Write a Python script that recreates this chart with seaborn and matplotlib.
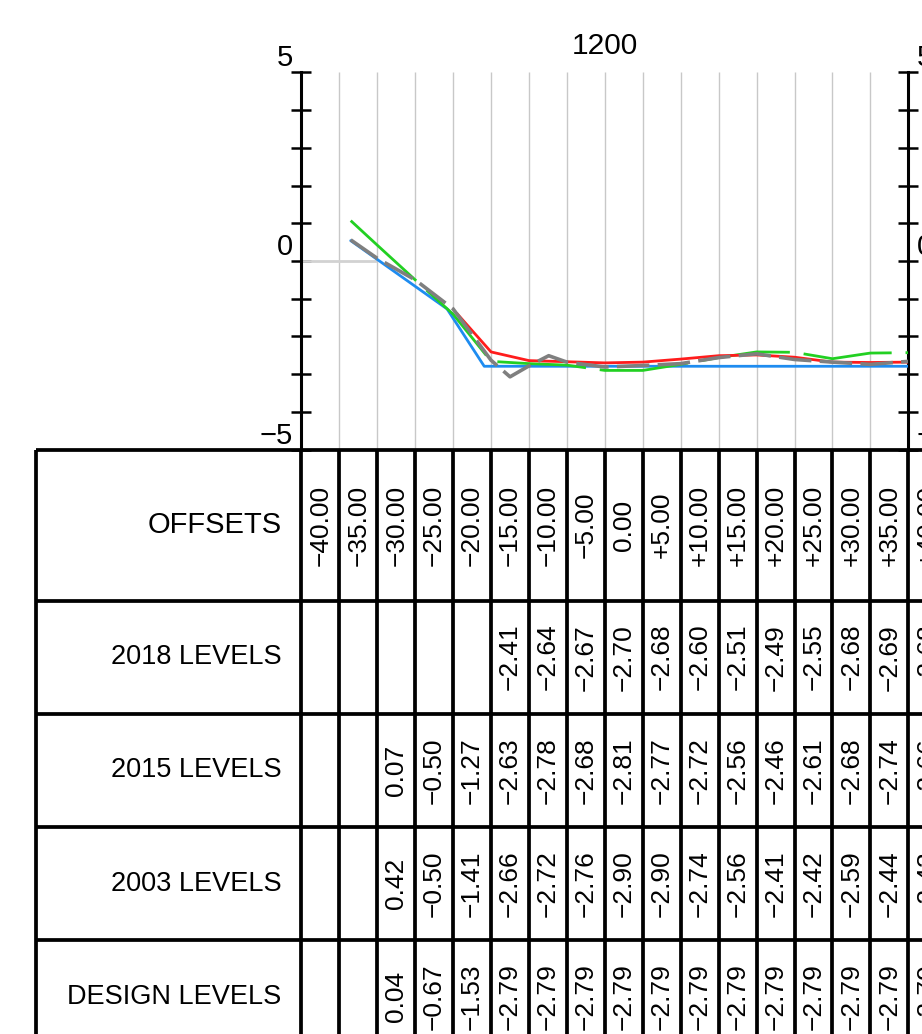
import matplotlib
matplotlib.use("Agg")
import matplotlib.pyplot as plt
import seaborn as sns
import pandas as pd

# table readings at each offset (None = no reading)
offsets = [-40, -35, -30, -25, -20, -15, -10, -5, 0, 5, 10, 15, 20, 25, 30, 35, 40]
levels_2018 = [None, None, None, None, None, -2.41, -2.64, -2.67, -2.70, -2.68,
               -2.60, -2.51, -2.49, -2.55, -2.68, -2.69, -2.68]
levels_2015 = [None, None, 0.07, -0.50, -1.27, -2.63, -2.78, -2.68, -2.81, -2.77,
               -2.72, -2.56, -2.46, -2.61, -2.68, -2.74, -2.66]
levels_2003 = [None, None, 0.42, -0.50, -1.41, -2.66, -2.72, -2.76, -2.90, -2.90,
               -2.74, -2.56, -2.41, -2.42, -2.59, -2.44, -2.43]
levels_design = [None, None, 0.04, -0.67, -1.53, -2.79, -2.79, -2.79, -2.79, -2.79,
                 -2.79, -2.79, -2.79, -2.79, -2.79, -2.79, -2.79]
row_names = ["OFFSETS", "2018 LEVELS", "2015 LEVELS", "2003 LEVELS", "DESIGN LEVELS"]
row_font = [21, 19.5, 19.5, 19.5, 19.5]
section = "1200"

# profiles as drawn in the section view
design_x = [-33.5, -20.8, -15.9, 40]
design_y = [0.54, -1.27, -2.79, -2.79]
s2003_x = [-33.5, -30, -25, -20, -15, -10, -5, 0, 5, 10, 15, 20, 25, 30, 35, 40]
s2003_y = [1.07, 0.42, -0.50, -1.41, -2.66, -2.72, -2.76, -2.90, -2.90, -2.74,
           -2.56, -2.41, -2.42, -2.59, -2.44, -2.43]
s2015_x = [-33.5, -30, -25, -20, -15, -12.5, -10, -7.4, -5, 0, 5, 10, 15, 20, 25, 30, 35, 40]
s2015_y = [0.56, 0.07, -0.50, -1.27, -2.63, -3.07, -2.78, -2.51, -2.68, -2.81,
           -2.77, -2.72, -2.56, -2.46, -2.61, -2.68, -2.74, -2.66]
s2018_x = [-19.5, -15, -10, -5, 0, 5, 10, 15, 20, 25, 30, 35, 40]
s2018_y = [-1.39, -2.41, -2.64, -2.67, -2.70, -2.68, -2.60, -2.51, -2.49, -2.55,
           -2.68, -2.69, -2.68]

sns.set_theme(style="white")
plt.rcParams["font.family"] = ["Liberation Sans", "DejaVu Sans"]
plt.rcParams["text.color"] = "black"
plt.rcParams["ytick.color"] = "black"
plt.rcParams["ytick.labelcolor"] = "black"

fig = plt.figure(figsize=(9.22, 10.34), dpi=100)
ax = fig.add_axes([301.4 / 922, 1 - 449.65 / 1034, 606.9 / 922, 377.3 / 1034])
ax.set_xlim(-40, 40)
ax.set_ylim(-5, 5)

# light grid
ax.vlines(offsets[1:-1], -5, 5, color="#c8c8c8", lw=1.0, zorder=1)
ax.hlines(0, -40, -30, color="#d2d2d2", lw=2, zorder=1)

profiles = [
    (design_x, design_y, "#1e8cf0", 2.0, "-"),
    (s2003_x, s2003_y, "#22d022", 2.0, (0, (32, 5))),
    (s2018_x, s2018_y, "#ff1c1c", 2.0, "-"),
    (s2015_x, s2015_y, "#7f7f7f", 2.6, (0, (9, 2.3))),
]
for i, (px, py, col, w, ls) in enumerate(profiles):
    d = pd.DataFrame({"offset": px, "level": py})
    sns.lineplot(data=d, x="offset", y="level", ax=ax, color=col, lw=w,
                 linestyle=ls, estimator=None, sort=False, zorder=3 + i)

# axes
ax.set_xticks([])
ax.set_yticks([-5, 0, 5])
ax.set_yticks(range(-5, 6), minor=True)
ax.set_yticklabels(["\u22125", "0", "5"], va="bottom")
ax.tick_params(axis="y", which="both", direction="inout", length=14, width=1.8,
               color="black", labelcolor="black", left=True, right=True,
               labelleft=True, labelright=True, labelsize=21, pad=-1)
for side in ["top", "bottom"]:
    ax.spines[side].set_visible(False)
for side in ["left", "right"]:
    ax.spines[side].set_linewidth(2.2)
    ax.spines[side].set_color("black")
ax.set_xlabel("")
ax.set_ylabel("")
ax.set_title(section, fontsize=21.5, pad=13, color="black")

# data table under the section
row_tops = [-5, -9, -12, -15, -18, -21]
ax.hlines(row_tops, -75, 45, color="black", lw=2.7, clip_on=False, zorder=5)
ax.vlines([-75] + offsets + [45], -5, -21, color="black", lw=2.7, clip_on=False, zorder=5)

def fmt_offset(v):
    return "0.00" if v == 0 else f"{v:+.2f}".replace("-", "\u2212")

def fmt_level(v):
    return f"{v:.2f}".replace("-", "\u2212")

rows = [levels_2018, levels_2015, levels_2003, levels_design]
for r, name in enumerate(row_names):
    yc = (row_tops[r] + row_tops[r + 1]) / 2
    ax.text(-42.6, yc, name, ha="right", va="center", fontsize=row_font[r],
            color="black", clip_on=False)
    for j, off in enumerate(offsets):
        if r == 0:
            s = fmt_offset(off)
        else:
            v = rows[r - 1][j]
            if v is None:
                continue
            s = fmt_level(v)
        ax.text(off + 2.5, yc, s, rotation=90, ha="center", va="center",
                fontsize=19, color="black", clip_on=False)

fig.savefig("out.png", dpi=100)
